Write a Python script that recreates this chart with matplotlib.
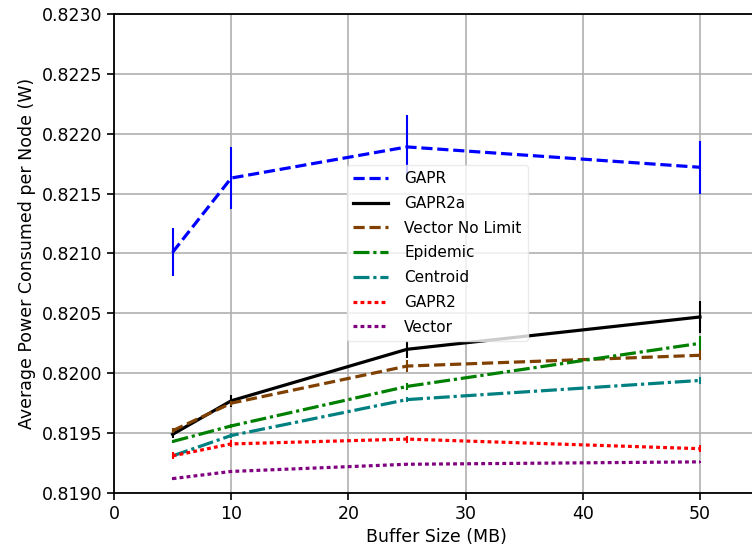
import matplotlib
matplotlib.use("Agg")
import matplotlib.pyplot as plt

buffer_sizes = [5, 10, 25, 50]

gapr = [0.82101, 0.82163, 0.82189, 0.82172]
gapr_err = [0.00020, 0.00026, 0.00027, 0.00022]
gapr2a = [0.81949, 0.81977, 0.82020, 0.82047]
gapr2a_err = [0.00003, 0.00005, 0.00007, 0.00013]
vector_nolimit = [0.81952, 0.81975, 0.82006, 0.82015]
vector_nolimit_err = [0.00002, 0.00002, 0.00005, 0.00004]
epidemic = [0.81943, 0.81956, 0.81989, 0.82025]
epidemic_err = [0.00001, 0.00002, 0.00003, 0.00006]
centroid = [0.81931, 0.81948, 0.81978, 0.81994]
centroid_err = [0.00001, 0.00002, 0.00002, 0.00003]
gapr2 = [0.81931, 0.81941, 0.81945, 0.81937]
gapr2_err = [0.00003, 0.00003, 0.00003, 0.00003]
vector = [0.81912, 0.81918, 0.81924, 0.81926]
vector_err = [0.00001, 0.00001, 0.00001, 0.00001]

series = [
    ("GAPR", gapr, gapr_err, "blue", (0, (3.5, 1.5))),
    ("GAPR2a", gapr2a, gapr2a_err, "black", "-"),
    ("Vector No Limit", vector_nolimit, vector_nolimit_err, "#804000", (0, (3.5, 1.5))),
    ("Epidemic", epidemic, epidemic_err, "green", (0, (5, 1.2, 1, 1.2))),
    ("Centroid", centroid, centroid_err, "teal", (0, (5, 1.2, 1, 1.2))),
    ("GAPR2", gapr2, gapr2_err, "red", (0, (1.2, 1.0))),
    ("Vector", vector, vector_err, "purple", (0, (1.2, 1.0))),
]

fs = 12.5
fig = plt.figure(figsize=(7.52, 5.52), dpi=100)
ax = fig.add_axes([114 / 752, 59 / 552, 644.6 / 752, 479 / 552])

for label, vals, err, color, ls in series:
    line, = ax.plot(buffer_sizes, vals, color=color, linestyle=ls, linewidth=2.3, label=label, zorder=3)
    ax.errorbar(buffer_sizes, vals, yerr=err, fmt="none", ecolor=color, elinewidth=1.5, capsize=0, zorder=3)

ax.set_xlim(0, 55)
ax.set_ylim(0.8190, 0.8230)
ax.set_xticks([0, 10, 20, 30, 40, 50])
ax.set_yticks([0.8190, 0.8195, 0.8200, 0.8205, 0.8210, 0.8215, 0.8220, 0.8225, 0.8230])
ax.set_yticklabels(["%.4f" % v for v in ax.get_yticks()])
ax.grid(True, color="#b0b0b0", linewidth=1.2, zorder=0)
ax.set_axisbelow(True)
ax.tick_params(labelsize=fs, direction="out", length=5, width=1.2)
for sp in ax.spines.values():
    sp.set_linewidth(1.3)
ax.set_xlabel("Buffer Size (MB)", fontsize=fs)
ax.set_ylabel("Average Power Consumed per Node (W)", fontsize=fs)

ax.legend(loc="upper left", bbox_to_anchor=(347 / 752, 1 - 165 / 552), bbox_transform=fig.transFigure,
          borderaxespad=0, fontsize=11, frameon=True, framealpha=0.8, edgecolor="#e6e6e6", fancybox=True,
          handlelength=2.3, labelspacing=0.64, handletextpad=1.05, borderpad=0.4)

fig.savefig("out.png", dpi=100)
